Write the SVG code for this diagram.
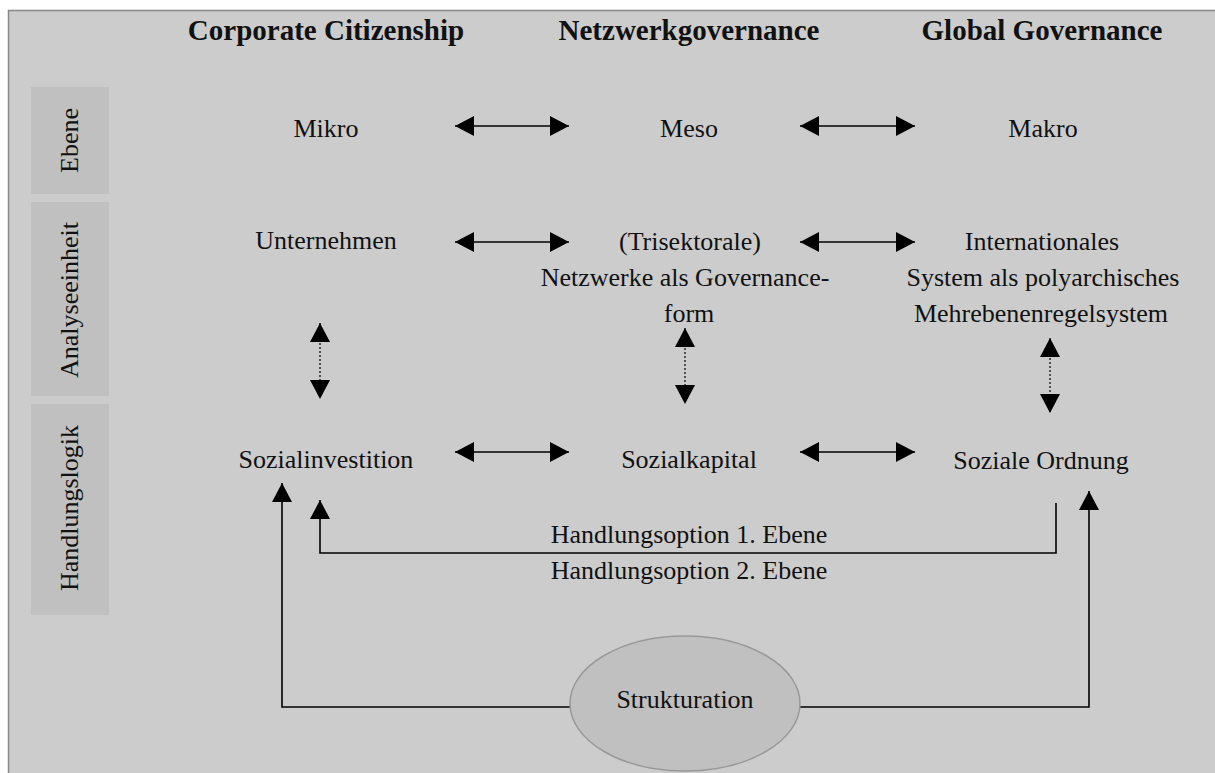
<svg xmlns="http://www.w3.org/2000/svg" width="1215" height="773" viewBox="0 0 1215 773">
<style>
text{font-family:"Liberation Serif","Times New Roman",serif;fill:#111;}
.t{font-size:29px;font-weight:bold;text-anchor:middle;}
.n{font-size:26px;text-anchor:middle;}
.lab{fill:#c0c0c0;}
.c{fill:none;stroke:#000;stroke-width:1.6;}
.d{fill:none;stroke:#000;stroke-width:1.2;stroke-dasharray:2 2;}
</style>
<defs>
<marker id="ah" markerUnits="userSpaceOnUse" markerWidth="19" markerHeight="20" refX="19" refY="10" orient="auto-start-reverse" viewBox="0 0 19 20">
<path d="M0,0 L19,10 L0,20 z" fill="#000"/>
</marker>
</defs>
<rect x="0" y="0" width="1215" height="773" fill="#fff"/>
<rect x="8.5" y="10.5" width="1220" height="780" fill="#cccccc" stroke="#888" stroke-width="1.5"/>

<g id="labels">
<g id="lab-ebene"><rect class="lab" x="31" y="87" width="78" height="107"/><text class="n" transform="translate(78,140.5) rotate(-90)">Ebene</text></g>
<g id="lab-analyse"><rect class="lab" x="31" y="202" width="78" height="194"/><text class="n" transform="translate(78,300) rotate(-90)">Analyseeinheit</text></g>
<g id="lab-handlung"><rect class="lab" x="31" y="404" width="78" height="211"/><text class="n" transform="translate(78,508) rotate(-90)">Handlungslogik</text></g>
</g>

<g id="titles">
<text class="t" x="326" y="40">Corporate Citizenship</text>
<text class="t" x="689" y="40">Netzwerkgovernance</text>
<text class="t" x="1042" y="40">Global Governance</text>
</g>

<g id="connectors">
<line class="c" x1="455" y1="126" x2="569" y2="126" marker-start="url(#ah)" marker-end="url(#ah)"/>
<line class="c" x1="800" y1="126" x2="915" y2="126" marker-start="url(#ah)" marker-end="url(#ah)"/>
<line class="c" x1="455" y1="242" x2="569" y2="242" marker-start="url(#ah)" marker-end="url(#ah)"/>
<line class="c" x1="800" y1="242" x2="915" y2="242" marker-start="url(#ah)" marker-end="url(#ah)"/>
<line class="c" x1="455" y1="452" x2="569" y2="452" marker-start="url(#ah)" marker-end="url(#ah)"/>
<line class="c" x1="800" y1="452" x2="915" y2="452" marker-start="url(#ah)" marker-end="url(#ah)"/>
<line class="d" x1="320" y1="323" x2="320" y2="399" marker-start="url(#ah)" marker-end="url(#ah)"/>
<line class="d" x1="685" y1="328" x2="685" y2="404" marker-start="url(#ah)" marker-end="url(#ah)"/>
<line class="d" x1="1050" y1="338" x2="1050" y2="413" marker-start="url(#ah)" marker-end="url(#ah)"/>
<path class="c" d="M1056,503 V553 H320 V500" marker-end="url(#ah)"/>
<path class="c" d="M600,707 H282 V483" marker-end="url(#ah)"/>
<path class="c" d="M770,707 H1089 V491" marker-end="url(#ah)"/>
</g>

<g id="n-mikro"><text class="n" x="326" y="137">Mikro</text></g>
<g id="n-meso"><text class="n" x="689" y="137">Meso</text></g>
<g id="n-makro"><text class="n" x="1043" y="137">Makro</text></g>

<g id="n-unternehmen"><text class="n" x="326" y="249">Unternehmen</text></g>
<g id="n-netzwerke">
<text class="n" x="690" y="250">(Trisektorale)</text>
<text class="n" x="685" y="286">Netzwerke als Governance-</text>
<text class="n" x="689" y="322">form</text>
</g>
<g id="n-international">
<text class="n" x="1042" y="250">Internationales</text>
<text class="n" x="1043" y="286">System als polyarchisches</text>
<text class="n" x="1041" y="322">Mehrebenenregelsystem</text>
</g>

<g id="n-sozialinvestition"><text class="n" x="326" y="468">Sozialinvestition</text></g>
<g id="n-sozialkapital"><text class="n" x="689" y="468">Sozialkapital</text></g>
<g id="n-ordnung"><text class="n" x="1041" y="469">Soziale Ordnung</text></g>

<g id="handlungsoptionen">
<text class="n" x="689" y="543">Handlungsoption 1. Ebene</text>
<text class="n" x="689" y="579">Handlungsoption 2. Ebene</text>
</g>

<g id="n-strukturation">
<ellipse cx="685" cy="703.5" rx="115" ry="67.5" fill="#c0c0c0" stroke="#999" stroke-width="1.5"/>
<text class="n" x="685" y="708">Strukturation</text>
</g>
</svg>
